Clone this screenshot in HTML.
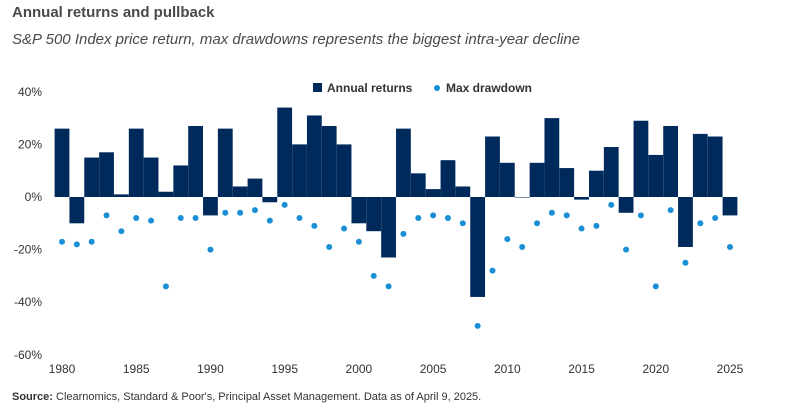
<!DOCTYPE html>
<html><head><meta charset="utf-8"><style>
body{margin:0;background:#fff;font-family:"Liberation Sans",sans-serif;}
#wrap{position:relative;width:786px;height:417px;overflow:hidden;}
.t{position:absolute;left:12px;top:4px;font-size:15px;font-weight:bold;color:#4a4a4a;}
.s{position:absolute;left:12px;top:31px;font-size:15px;font-style:italic;color:#4a4a4a;}
.src{position:absolute;left:12px;top:391px;font-size:11px;color:#333;}
</style></head><body>
<div id="wrap">
<div class="t">Annual returns and pullback</div>
<div class="s">S&amp;P 500 Index price return, max drawdowns represents the biggest intra-year decline</div>
<svg id="svg" width="786" height="417" style="position:absolute;left:0;top:0"></svg>
<div class="src"><b>Source:</b> Clearnomics, Standard &amp; Poor's, Principal Asset Management. Data as of April 9, 2025.</div>
</div>
<script>
const years=[];for(let y=1980;y<=2025;y++)years.push(y);
const annualReturns=[26,-10,15,17,1,26,15,2,12,27,-7,26,4,7,-2,34,20,31,27,20,-10,-13,-23,26,9,3,14,4,-38,23,13,0,13,30,11,-1,10,19,-6,29,16,27,-19,24,23,-7];
const maxDrawdown=[-17,-18,-17,-7,-13,-8,-9,-34,-8,-8,-20,-6,-6,-5,-9,-3,-8,-11,-19,-12,-17,-30,-34,-14,-8,-7,-8,-10,-49,-28,-16,-19,-10,-6,-7,-12,-11,-3,-20,-7,-34,-5,-25,-10,-8,-19];
const yTicks=[40,20,0,-20,-40,-60];
const xTicks=[1980,1985,1990,1995,2000,2005,2010,2015,2020,2025];
const NS='http://www.w3.org/2000/svg',svg=document.getElementById('svg');
const x=y=>62+(y-1980)*(730-62)/45;
const yv=v=>197-v*(52.6/20);
const bw=14.8;
function mk(t,a){const e=document.createElementNS(NS,t);for(const k in a)e.setAttribute(k,a[k]);svg.appendChild(e);return e;}
yTicks.forEach(v=>{const e=mk('text',{x:42,y:yv(v)+4,'text-anchor':'end','font-size':12,fill:'#333'});e.textContent=v+'%';

});
xTicks.forEach(v=>{const e=mk('text',{x:x(v),y:373,'text-anchor':'middle','font-size':12,fill:'#333'});e.textContent=v;

});
years.forEach((yr,i)=>{const v=annualReturns[i];const top=Math.min(yv(v),yv(0)),h=Math.abs(yv(v)-yv(0));
const r=mk('rect',{x:x(yr)-bw/2,y:top,width:bw,height:Math.max(h,0.5),fill:'#002a5c'});

});
years.forEach((yr,i)=>{const c=mk('circle',{cx:x(yr),cy:yv(maxDrawdown[i]),r:3,fill:'#1a8fd6'});

});
const lr=mk('rect',{x:313,y:83,width:9,height:9,fill:'#002a5c'});


const lt=mk('text',{x:327,y:92,'font-size':12,'font-weight':'bold',fill:'#333'});lt.textContent='Annual returns';


const lc=mk('circle',{cx:437,cy:88,r:3,fill:'#1a8fd6'});


const lt2=mk('text',{x:446,y:92,'font-size':12,'font-weight':'bold',fill:'#333'});lt2.textContent='Max drawdown';


</script>
</body></html>
